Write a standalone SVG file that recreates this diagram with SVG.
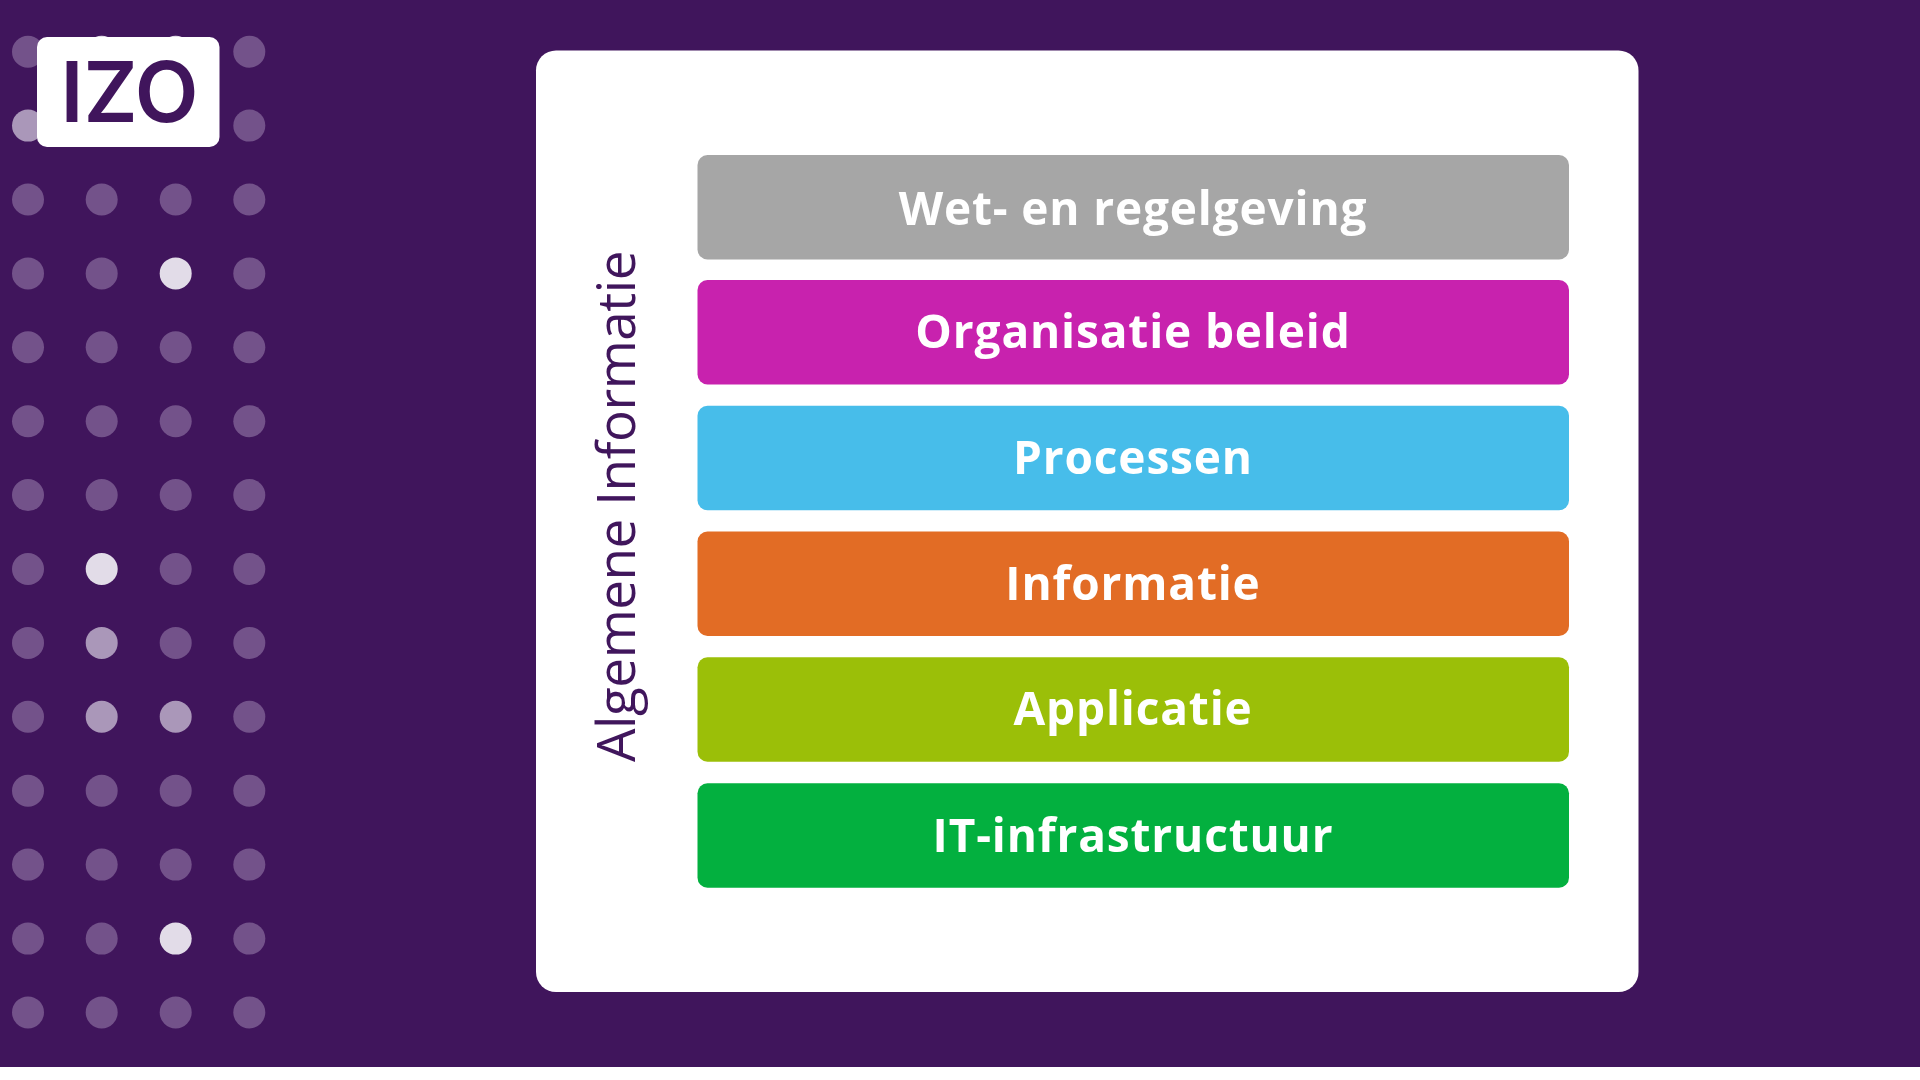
<svg xmlns="http://www.w3.org/2000/svg" width="1920" height="1080" viewBox="0 0 1920 1080">
<defs><filter id="soft" x="-5%" y="-20%" width="110%" height="140%"><feGaussianBlur stdDeviation="0.7"/></filter></defs>
<style>
.d{fill:#73528a}.m{fill:#aa97b9}.b{fill:#e2dce8}
.bar{font-family:"Open Sans","Liberation Sans",sans-serif;font-weight:700;font-size:46px;letter-spacing:.85px;fill:#fff;text-anchor:middle;filter:url(#soft)}
</style>
<rect width="1920" height="1080" fill="#fff"/>
<rect width="1920" height="1067" fill="#40155c"/>
<g id="dots">
<circle class="d" cx="28" cy="51.7" r="16"/><circle class="b" cx="101.7" cy="51.7" r="16"/><circle class="b" cx="175.7" cy="51.7" r="16"/><circle class="d" cx="249.3" cy="51.7" r="16"/>
<circle class="m" cx="28" cy="125.6" r="16"/><circle class="d" cx="101.7" cy="125.6" r="16"/><circle class="d" cx="175.7" cy="125.6" r="16"/><circle class="d" cx="249.3" cy="125.6" r="16"/>
<circle class="d" cx="28" cy="199.5" r="16"/><circle class="d" cx="101.7" cy="199.5" r="16"/><circle class="d" cx="175.7" cy="199.5" r="16"/><circle class="d" cx="249.3" cy="199.5" r="16"/>
<circle class="d" cx="28" cy="273.4" r="16"/><circle class="d" cx="101.7" cy="273.4" r="16"/><circle class="b" cx="175.7" cy="273.4" r="16"/><circle class="d" cx="249.3" cy="273.4" r="16"/>
<circle class="d" cx="28" cy="347.3" r="16"/><circle class="d" cx="101.7" cy="347.3" r="16"/><circle class="d" cx="175.7" cy="347.3" r="16"/><circle class="d" cx="249.3" cy="347.3" r="16"/>
<circle class="d" cx="28" cy="421.2" r="16"/><circle class="d" cx="101.7" cy="421.2" r="16"/><circle class="d" cx="175.7" cy="421.2" r="16"/><circle class="d" cx="249.3" cy="421.2" r="16"/>
<circle class="d" cx="28" cy="495.1" r="16"/><circle class="d" cx="101.7" cy="495.1" r="16"/><circle class="d" cx="175.7" cy="495.1" r="16"/><circle class="d" cx="249.3" cy="495.1" r="16"/>
<circle class="d" cx="28" cy="569" r="16"/><circle class="b" cx="101.7" cy="569" r="16"/><circle class="d" cx="175.7" cy="569" r="16"/><circle class="d" cx="249.3" cy="569" r="16"/>
<circle class="d" cx="28" cy="642.9" r="16"/><circle class="m" cx="101.7" cy="642.9" r="16"/><circle class="d" cx="175.7" cy="642.9" r="16"/><circle class="d" cx="249.3" cy="642.9" r="16"/>
<circle class="d" cx="28" cy="716.8" r="16"/><circle class="m" cx="101.7" cy="716.8" r="16"/><circle class="m" cx="175.7" cy="716.8" r="16"/><circle class="d" cx="249.3" cy="716.8" r="16"/>
<circle class="d" cx="28" cy="790.7" r="16"/><circle class="d" cx="101.7" cy="790.7" r="16"/><circle class="d" cx="175.7" cy="790.7" r="16"/><circle class="d" cx="249.3" cy="790.7" r="16"/>
<circle class="d" cx="28" cy="864.6" r="16"/><circle class="d" cx="101.7" cy="864.6" r="16"/><circle class="d" cx="175.7" cy="864.6" r="16"/><circle class="d" cx="249.3" cy="864.6" r="16"/>
<circle class="d" cx="28" cy="938.6" r="16"/><circle class="d" cx="101.7" cy="938.6" r="16"/><circle class="b" cx="175.7" cy="938.6" r="16"/><circle class="d" cx="249.3" cy="938.6" r="16"/>
<circle class="d" cx="28" cy="1012.4" r="16"/><circle class="d" cx="101.7" cy="1012.4" r="16"/><circle class="d" cx="175.7" cy="1012.4" r="16"/><circle class="d" cx="249.3" cy="1012.4" r="16"/>
</g>
<g id="logo">
<rect x="37" y="37" width="182.500" height="110" rx="10" fill="#fff"/>
<text x="129.500" y="122" font-family="Inter,'Liberation Sans',sans-serif" font-weight="600" font-size="84" fill="#40155c" text-anchor="middle" textLength="138" lengthAdjust="spacingAndGlyphs">IZO</text>
</g>
<g id="card"><rect x="536" y="50.500" width="1102.500" height="941.500" rx="20" fill="#fff"/></g>
<g id="side-label"><text transform="translate(635 762) rotate(-90)" font-family="'Open Sans','Liberation Sans',sans-serif" font-size="53" letter-spacing="-.45" fill="#40155c" filter="url(#soft)">Algemene Informatie</text></g>
<g id="n1"><rect x="697.500" y="155" width="871.500" height="104.500" rx="10" fill="#a6a6a6"/><text class="bar" x="1133" y="224.500">Wet- en regelgeving</text></g>
<g id="n2"><rect x="697.500" y="280" width="871.500" height="104.500" rx="10" fill="#c822ae"/><text class="bar" x="1133" y="348">Organisatie beleid</text></g>
<g id="n3"><rect x="697.500" y="405.700" width="871.500" height="104.500" rx="10" fill="#47bdea"/><text class="bar" x="1133" y="474">Processen</text></g>
<g id="n4"><rect x="697.500" y="531.500" width="871.500" height="104.500" rx="10" fill="#e26c25"/><text class="bar" x="1133" y="600">Informatie</text></g>
<g id="n5"><rect x="697.500" y="657.300" width="871.500" height="104.500" rx="10" fill="#9bbf08"/><text class="bar" x="1133" y="725">Applicatie</text></g>
<g id="n6"><rect x="697.500" y="783.200" width="871.500" height="104.500" rx="10" fill="#03b03f"/><text class="bar" x="1133" y="852">IT-infrastructuur</text></g>
</svg>
